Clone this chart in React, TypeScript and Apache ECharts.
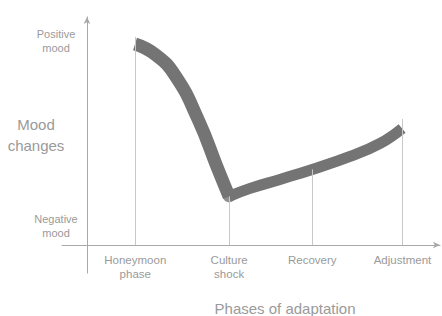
import React, { useEffect, useRef } from "react";
import * as echarts from "echarts";

// Phase categories and their positions on the horizontal (time) scale
const phases = ["Honeymoon\nphase", "Culture\nshock", "Recovery", "Adjustment"];
const phaseX = [0.54, 1.59, 2.52, 3.53];
// Height that each phase's drop line reaches
const dropTop = [10.4, 2.43, 3.78, 6.3];

// Mood labels on the vertical axis
const moodLabels = ["Positive\nmood", "Negative\nmood"];
const moodY = [10.2, 0.95];

// Mood curve
const honeymoonToShock: [number, number][] = [
  [0.537, 10.05],
  [0.761, 9.53],
  [0.985, 8.48],
  [1.243, 6.28],
  [1.466, 3.78],
  [1.59, 2.43],
];
const shockToAdjustment: [number, number][] = [
  [1.59, 2.43],
  [1.825, 2.83],
  [2.16, 3.28],
  [2.52, 3.78],
  [2.944, 4.43],
  [3.28, 5.08],
  [3.526, 5.83],
];

const FONT = "'Liberation Sans', Arial, sans-serif";
const TEXT = "#9a9a9a";
const AXIS = "#a8a8a8";
const CURVE = "#747474";

function nearestLabel(v: number, xs: number[], labels: string[]) {
  let best = 0;
  for (let i = 1; i < xs.length; i++) {
    if (Math.abs(xs[i] - v) < Math.abs(xs[best] - v)) best = i;
  }
  return Math.abs(xs[best] - v) < 0.05 ? labels[best] : "";
}

export default function App() {
  const ref = useRef<HTMLDivElement>(null);
  useEffect(() => {
    if (!ref.current) return;
    const chart = echarts.init(ref.current, undefined, { renderer: "svg" });
    chart.setOption({
      animation: false,
      backgroundColor: "#ffffff",
      grid: { left: 62, right: 2, top: 17, bottom: 43, containLabel: false },
      xAxis: {
        type: "value",
        min: -0.28,
        max: 3.95,
        splitLine: { show: false },
        axisTick: { show: false },
        axisLine: {
          show: true,
          onZero: true,
          symbol: ["none", "arrow"],
          symbolSize: [5, 7],
          lineStyle: { color: AXIS, width: 1 },
        },
        axisLabel: {
          customValues: phaseX,
          formatter: (v: number) => nearestLabel(v, phaseX, phases),
          color: TEXT,
          fontFamily: FONT,
          fontSize: 11.5,
          lineHeight: 14,
          margin: -20,
          align: "center",
          verticalAlign: "top",
        },
      },
      yAxis: {
        type: "value",
        min: -1.4,
        max: 11.4,
        splitLine: { show: false },
        axisTick: { show: false },
        axisLine: {
          show: true,
          onZero: true,
          symbol: ["none", "arrow"],
          symbolSize: [5, 7],
          lineStyle: { color: AXIS, width: 1 },
        },
        axisLabel: {
          customValues: moodY,
          formatter: (v: number) => nearestLabel(v, moodY, moodLabels),
          color: TEXT,
          fontFamily: FONT,
          fontSize: 11,
          lineHeight: 14,
          margin: 6,
          align: "center",
        },
      },
      graphic: [
        {
          type: "text",
          x: 36,
          y: 135,
          style: {
            text: "Mood\nchanges",
            align: "center",
            verticalAlign: "middle",
            fontSize: 15,
            lineHeight: 21,
            fontFamily: FONT,
            fill: TEXT,
          },
        },
        {
          type: "text",
          x: 285,
          y: 308,
          style: {
            text: "Phases of adaptation",
            align: "center",
            verticalAlign: "middle",
            fontSize: 15,
            fontFamily: FONT,
            fill: TEXT,
          },
        },
      ],
      series: [
        {
          type: "line",
          data: [],
          z: 1,
          markLine: {
            silent: true,
            symbol: ["none", "none"],
            label: { show: false },
            lineStyle: { color: "#c8c8c8", width: 1, type: "solid" },
            data: phaseX.map((x, i) => [
              { coord: [x, 0] },
              { coord: [x, dropTop[i]] },
            ]),
          },
        },
        {
          type: "line",
          data: honeymoonToShock,
          smooth: 0.5,
          showSymbol: false,
          z: 3,
          lineStyle: { color: CURVE, width: 13, cap: "butt", join: "round" },
        },
        {
          type: "line",
          data: shockToAdjustment,
          smooth: 0.45,
          showSymbol: false,
          z: 3,
          lineStyle: { color: CURVE, width: 11, cap: "butt", join: "round" },
        },
        {
          type: "scatter",
          data: [shockToAdjustment[0]],
          symbol: "circle",
          symbolSize: 12,
          z: 3,
          itemStyle: { color: CURVE },
          silent: true,
        },
      ],
    });
    return () => chart.dispose();
  }, []);
  return (
    <div
      ref={ref}
      style={{ position: "fixed", left: 0, top: 0, width: 442, height: 316 }}
    />
  );
}
